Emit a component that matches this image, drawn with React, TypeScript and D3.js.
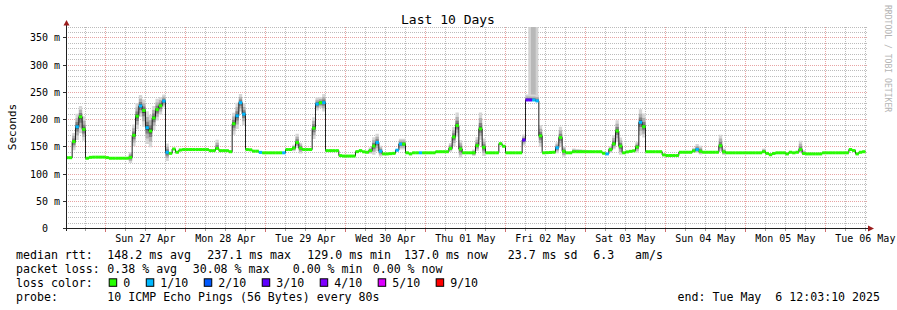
import React from 'react';
import * as d3 from 'd3';

const W = 897;
const H = 310;
const START = new Date(Date.UTC(2025, 3, 26, 12, 3, 10));
const END = new Date(Date.UTC(2025, 4, 6, 12, 3, 10));
const STEP_HOURS = 1; // RRD consolidation step shown per column group

const title = 'Last 10 Days';
const yAxisTitle = 'Seconds';
const watermark = 'RRDTOOL / TOBI OETIKER';

const yTickValues = [0, 50, 100, 150, 200, 250, 300, 350];
const yTickLabels = ['0', '50 m', '100 m', '150 m', '200 m', '250 m', '300 m', '350 m'];
const dayLabels = ['Sun 27 Apr', 'Mon 28 Apr', 'Tue 29 Apr', 'Wed 30 Apr', 'Thu 01 May', 'Fri 02 May', 'Sat 03 May', 'Sun 04 May', 'Mon 05 May', 'Tue 06 May'];

// [hours since start, median rtt (ms), loss (tenths), smoke above (ms), smoke below (ms)]
const samples: number[][] = [
  [0, 130, 0, 0, 0], [1.95, 130, 0, 0, 0], [2.25, 150, 0, 10, 10], [2.85, 173, 0, 16, 16], [3.75, 192, 1, 24, 24],
  [4.35, 203, 0, 20, 30], [4.95, 205, 0, 20, 30], [5.55, 180, 0, 24, 20], [5.85, 134, 0, 6, 0], [6.75, 129, 0, 0, 0],
  [7.65, 131, 0, 0, 0], [12.15, 131, 0, 0, 0], [13.05, 129, 0, 0, 0], [19.05, 129, 0, 0, 0], [19.65, 131, 0, 0, 0],
  [19.95, 150, 0, 10, 10], [20.55, 173, 0, 20, 20], [21.45, 205, 0, 24, 24], [22.05, 220, 1, 20, 20], [22.95, 225, 1, 16, 16],
  [23.55, 216, 0, 20, 30], [24.15, 189, 1, 30, 30], [25.05, 179, 0, 30, 30], [25.95, 192, 0, 24, 24], [27.15, 216, 0, 20, 20],
  [28.05, 222, 0, 16, 16], [29.25, 231, 1, 12, 12], [29.85, 234, 1, 10, 10], [30.15, 183, 1, 16, 16], [30.45, 140, 0, 0, 0],
  [31.95, 138, 0, 0, 0], [32.25, 146, 0, 0, 0], [32.85, 146, 0, 0, 0], [33.75, 140, 0, 0, 0], [34.65, 145, 0, 0, 0],
  [43.05, 145, 0, 0, 0], [43.35, 143, 0, 0, 0], [45.45, 143, 0, 0, 0], [45.75, 147, 0, 16, 0], [46.35, 143, 0, 0, 0],
  [48.45, 143, 0, 0, 0], [49.95, 141, 0, 0, 0], [50.25, 179, 0, 16, 16], [50.55, 195, 0, 20, 20], [51.75, 210, 1, 24, 24],
  [52.35, 228, 1, 16, 16], [52.95, 231, 1, 10, 10], [53.25, 210, 1, 20, 20], [53.55, 210, 0, 16, 16], [53.85, 145, 0, 0, 0],
  [55.35, 145, 0, 0, 0], [56.25, 142, 0, 0, 0], [58.05, 142, 0, 0, 0], [58.65, 139, 1, 0, 0], [59.25, 139, 0, 0, 0],
  [65.55, 139, 1, 0, 0], [66.15, 145, 0, 0, 0], [67.95, 145, 0, 0, 0], [68.55, 148, 0, 6, 6], [69.75, 158, 0, 16, 10],
  [70.05, 152, 0, 10, 10], [70.35, 148, 0, 0, 0], [71.25, 145, 0, 0, 0], [74.25, 145, 0, 0, 0], [74.55, 192, 0, 20, 20],
  [74.85, 215, 0, 20, 20], [75.45, 228, 0, 12, 12], [75.75, 231, 1, 10, 10], [77.55, 231, 1, 10, 10], [77.85, 186, 0, 16, 16],
  [78.15, 143, 0, 0, 0], [82.05, 143, 0, 0, 0], [82.35, 134, 0, 0, 0], [83.25, 133, 0, 0, 0], [87.15, 133, 0, 0, 0],
  [87.45, 141, 0, 0, 0], [88.05, 143, 0, 0, 0], [89.25, 141, 0, 0, 0], [90.75, 140, 0, 0, 0], [91.95, 145, 0, 6, 6],
  [92.55, 152, 0, 16, 16], [93.45, 158, 1, 16, 16], [94.05, 145, 0, 10, 10], [94.65, 141, 1, 0, 0], [95.25, 137, 0, 0, 0],
  [96.45, 137, 0, 0, 0], [98.55, 138, 0, 0, 0], [99.15, 143, 1, 0, 0], [100.05, 145, 0, 6, 6], [100.35, 155, 0, 10, 10],
  [100.65, 143, 1, 0, 0], [101.25, 155, 0, 10, 10], [101.55, 145, 0, 0, 0], [102.15, 139, 0, 0, 0], [103.05, 139, 0, 0, 0],
  [103.65, 137, 0, 0, 0], [104.25, 139, 0, 0, 0], [106.65, 139, 1, 0, 0], [110.55, 139, 0, 0, 0], [111.15, 141, 0, 0, 0],
  [115.05, 141, 0, 0, 0], [115.65, 149, 0, 10, 6], [116.25, 164, 0, 16, 16], [117.15, 179, 0, 24, 20], [117.75, 189, 0, 20, 20],
  [118.05, 179, 0, 16, 16], [118.35, 149, 0, 10, 10], [118.65, 143, 0, 0, 0], [119.25, 139, 0, 0, 0], [122.55, 139, 0, 0, 0],
  [122.85, 145, 0, 6, 6], [123.75, 155, 0, 16, 10], [124.35, 183, 0, 30, 20], [124.95, 175, 0, 24, 20], [125.25, 155, 0, 16, 16],
  [125.85, 141, 0, 0, 0], [126.15, 139, 0, 0, 0], [129.75, 139, 0, 0, 0], [130.05, 155, 0, 0, 0], [130.65, 156, 0, 0, 0],
  [131.25, 156, 0, 0, 0], [131.55, 150, 0, 0, 0], [131.85, 139, 0, 0, 0], [136.65, 139, 0, 0, 0], [137.25, 155, 0, 6, 6],
  [137.55, 164, 1, 10, 10], [137.85, 234, 3, 10, 0], [138.15, 236, 3, 10, 0], [139.05, 236, 3, 10, 0], [139.35, 236, 2, 10, 0],
  [140.25, 236, 1, 10, 0], [141.45, 236, 1, 10, 0], [142.05, 216, 0, 20, 20], [142.35, 179, 0, 16, 16], [142.95, 143, 0, 0, 0],
  [143.55, 139, 0, 0, 0], [146.55, 140, 0, 0, 0], [147.15, 143, 1, 0, 0], [147.75, 152, 0, 10, 10], [148.05, 167, 0, 20, 16],
  [148.35, 163, 0, 16, 16], [148.65, 156, 0, 16, 16], [149.25, 150, 0, 10, 10], [149.55, 140, 0, 0, 0], [150.15, 139, 0, 0, 0],
  [151.65, 139, 0, 0, 0], [152.25, 141, 0, 6, 0], [160.65, 141, 0, 0, 0], [160.95, 140, 0, 0, 0], [161.85, 137, 0, 0, 0],
  [162.15, 137, 1, 0, 0], [162.75, 137, 0, 0, 0], [163.05, 141, 0, 0, 0], [163.95, 149, 0, 6, 6], [164.55, 156, 0, 16, 10],
  [165.15, 167, 0, 20, 16], [165.75, 179, 0, 20, 20], [166.05, 172, 0, 16, 16], [166.35, 154, 0, 12, 12], [166.95, 143, 0, 0, 0],
  [167.25, 139, 0, 0, 0], [167.85, 140, 0, 0, 0], [170.85, 143, 0, 0, 0], [171.75, 152, 0, 10, 10], [172.35, 179, 0, 20, 20],
  [172.95, 195, 1, 24, 24], [173.25, 192, 0, 24, 20], [173.55, 186, 0, 20, 20], [173.85, 161, 0, 10, 10], [174.15, 141, 0, 0, 0],
  [178.65, 141, 0, 0, 0], [179.25, 136, 0, 0, 0], [179.85, 134, 0, 0, 0], [183.75, 134, 0, 0, 0], [184.05, 140, 0, 0, 0],
  [188.25, 140, 0, 0, 0], [188.55, 143, 0, 6, 0], [189.45, 145, 1, 10, 6], [190.05, 144, 0, 10, 6], [190.65, 141, 0, 0, 0],
  [191.25, 140, 0, 0, 0], [196.05, 140, 0, 0, 0], [196.35, 145, 0, 10, 6], [196.65, 152, 0, 20, 10], [197.25, 145, 0, 6, 6],
  [197.55, 140, 0, 0, 0], [198.15, 139, 0, 0, 0], [209.55, 139, 0, 0, 0], [209.85, 141, 0, 6, 0], [210.45, 138, 0, 0, 0],
  [211.65, 135.5, 0, 0, 0], [212.55, 138, 0, 0, 0], [213.15, 139, 0, 0, 0], [216.15, 139, 0, 0, 0], [216.45, 140, 0, 0, 0],
  [216.75, 137, 0, 0, 0], [217.05, 140, 0, 0, 0], [217.65, 139, 0, 0, 0], [218.55, 139, 0, 0, 0], [219.15, 140, 0, 0, 0],
  [219.75, 138, 0, 0, 0], [220.05, 141, 0, 6, 0], [220.65, 145, 0, 16, 6], [221.25, 141, 0, 6, 0], [221.55, 137, 0, 0, 0],
  [226.65, 137, 0, 0, 0], [227.25, 139, 0, 0, 0], [234.75, 139, 0, 0, 0], [235.05, 143, 0, 0, 0], [235.95, 145, 0, 0, 0],
  [236.55, 143, 0, 0, 0], [237.15, 141, 0, 0, 0], [237.75, 137, 0, 0, 0], [238.05, 140, 0, 0, 0], [238.65, 135, 0, 0, 0],
  [239.25, 141, 0, 0, 0], [239.85, 137, 0, 0, 0], [240, 137, 0, 0, 0],
];

// extreme single-ping outliers (hours since start) drawn as light smoke up to the top
const outlierStart = [138.85, 139.65];
const outlierEnd = [141.85, 141.05];
const outlierTopMs = [370, 370];
const outlierBaseMs = [238, 238];
const outlierShade = ['#d2d2d2', '#b8b8b8'];

const lossLabels = ['0', '1/10', '2/10', '3/10', '4/10', '5/10', '9/10'];
const lossColors = ['#26ff00', '#00b8ff', '#0059ff', '#5e00ff', '#7e00ff', '#dd00ff', '#ff0000'];

const legendRtt = [
  ['median rtt:', 16], ['148.2 ms avg', 107.3], ['237.1 ms max', 207.3], ['129.0 ms min', 307.3],
  ['137.0 ms now', 404], ['23.7 ms sd', 507.7], ['6.3', 593.3], ['am/s', 635],
];
const legendLoss = [
  ['packet loss:', 16], ['0.38 % avg', 107.3], ['30.08 % max', 192.7], ['0.00 % min', 292.7], ['0.00 % now', 372.7],
];
const probeText = '10 ICMP Echo Pings (56 Bytes) every 80s';
const endText = 'end: Tue May  6 12:03:10 2025';

const smokeLayers = [1, 0.66, 0.36, 0.15];
const smokeShades = ['#d6d6d6', '#b0b0b0', '#808080', '#484848'];

const MONO = "'DejaVu Sans Mono', monospace";

function lossColor(l: number) {
  if (l <= 0) return lossColors[0];
  if (l <= 5) return lossColors[l];
  return lossColors[6];
}

type Bin = { t0: Date; t1: Date; m: number; l: number; u: number; d: number };

function consolidate(): Bin[] {
  const hs = samples.map((s) => s[0]);
  const interp = (h: number, k: number) => {
    let i = d3.bisectRight(hs, h) - 1;
    i = Math.max(0, Math.min(samples.length - 2, i));
    const a = samples[i], b = samples[i + 1];
    const f = b[0] > a[0] ? Math.max(0, Math.min(1, (h - a[0]) / (b[0] - a[0]))) : 0;
    return a[k] + (b[k] - a[k]) * f;
  };
  const nb = Math.round(240 / STEP_HOURS);
  return d3.range(nb).map((b) => {
    const h0 = b * STEP_HOURS, h1 = (b + 1) * STEP_HOURS, hc = (h0 + h1) / 2;
    let m = interp(hc, 1);
    let u = interp(hc, 3);
    let d = interp(hc, 4);
    let l = 0;
    let best = 0;
    samples.forEach((s, i) => {
      if (s[0] < h0 || s[0] >= h1) return;
      l = Math.max(l, s[2]);
      u = Math.max(u, s[3]);
      d = Math.max(d, s[4]);
      const prev = samples[Math.max(0, i - 1)][1];
      const next = samples[Math.min(samples.length - 1, i + 1)][1];
      const isExt = (s[1] > prev && s[1] > next) || (s[1] < prev && s[1] < next);
      if (isExt && Math.abs(s[1] - interp(hc, 1)) > best) {
        best = Math.abs(s[1] - interp(hc, 1));
        m = s[1];
      }
    });
    return {
      t0: new Date(START.getTime() + h0 * 3600e3),
      t1: new Date(START.getTime() + h1 * 3600e3),
      m, l, u, d,
    };
  });
}

export default function App() {
  const x = d3.scaleUtc().domain([START, END]).range([65.5, 865.5]);
  const y = d3.scaleLinear().domain([0, 370]).range([228.5, 27]);
  const crisp = (v: number) => Math.floor(v) + 0.5;

  const bins = consolidate();
  const stepPts = [...bins.map((b) => ({ t: b.t0, b })), { t: bins[bins.length - 1].t1, b: bins[bins.length - 1] }];

  const smokeAreas = smokeLayers.map((f) =>
    d3.area<any>()
      .curve(d3.curveStepAfter)
      .x((p) => x(p.t))
      .y0((p) => y(p.b.m - p.b.d * f))
      .y1((p) => y(p.b.m + p.b.u * f))(stepPts) as string
  );
  const medianLine = d3.line<any>().curve(d3.curveStepAfter).x((p) => x(p.t)).y((p) => y(p.b.m))(stepPts) as string;

  const minorH = d3.range(10, 371, 10).filter((v) => v % 50 !== 0);
  const majorH = d3.range(50, 371, 50);
  const sixHours = d3.utcHour.every(6)!.range(START, END);
  const minorV = sixHours.filter((d) => d.getUTCHours() !== 0);
  const majorV = sixHours.filter((d) => d.getUTCHours() === 0);
  const days = d3.utcDay.range(START, END);

  const legendSquares: { x: number; c: string; label: string }[] = [];
  let sx = 108.7;
  lossLabels.forEach((lab, i) => {
    legendSquares.push({ x: sx, c: lossColors[i], label: lab });
    sx += 14.5 + lab.length * 6.97 + 15.6;
  });

  const legendY = [258.5, 272.5, 286.5, 300.5];
  const minorGrid = '#bcbcbc';
  const majorGrid = '#e8a4a4';
  const hx = (h: number) => x(new Date(START.getTime() + h * 3600e3));

  return (
    <svg width={W} height={H} style={{ position: 'absolute', left: 0, top: 0, background: '#fff' }}
      fontFamily={MONO}>
      <defs>
        <clipPath id="plot">
          <rect x={66} y={27} width={801} height={201.5} />
        </clipPath>
      </defs>
      <rect x={0} y={0} width={W} height={H} fill="#ffffff" />

      {/* grid */}
      {minorH.map((v) => (
        <line key={'mh' + v} x1={66} x2={867} y1={crisp(y(v))} y2={crisp(y(v))}
          stroke={minorGrid} strokeDasharray="1,1" />
      ))}
      {minorV.map((d, i) => (
        <line key={'mv' + i} x1={crisp(x(d))} x2={crisp(x(d))} y1={27} y2={228}
          stroke={minorGrid} strokeDasharray="1,1" />
      ))}
      {majorH.map((v) => (
        <line key={'Mh' + v} x1={66} x2={867} y1={crisp(y(v))} y2={crisp(y(v))}
          stroke={majorGrid} strokeDasharray="1,1" />
      ))}
      {majorV.map((d, i) => (
        <line key={'Mv' + i} x1={crisp(x(d))} x2={crisp(x(d))} y1={27} y2={228}
          stroke={majorGrid} strokeDasharray="1,1" />
      ))}

      {/* data */}
      <g clipPath="url(#plot)">
        {outlierStart.map((s, i) => (
          <rect key={'o' + i}
            x={hx(s)}
            width={hx(outlierEnd[i]) - hx(s)}
            y={y(outlierTopMs[i])}
            height={y(outlierBaseMs[i]) - y(outlierTopMs[i])}
            fill={outlierShade[i]} />
        ))}
        {smokeAreas.map((d, i) => (
          <path key={'s' + i} d={d} fill={smokeShades[i]} stroke="none" />
        ))}
        <path d={medianLine} fill="none" stroke="#202020" strokeWidth={1} />
        {bins.map((b, i) => (
          <rect key={'c' + i} x={x(b.t0)} y={y(b.m) - 1.5} width={x(b.t1) - x(b.t0)} height={3}
            fill={lossColor(b.l)} />
        ))}
      </g>

      {/* axes */}
      <line x1={66.5} x2={66.5} y1={231} y2={23} stroke="#202020" />
      <line x1={63} x2={869} y1={228.5} y2={228.5} stroke="#202020" />
      <path d="M63.5,25.5 L69.5,25.5 L66.5,20 Z" fill="#9b1d1d" />
      <path d="M868,225.5 L868,231.5 L874,228.5 Z" fill="#9b1d1d" />

      {yTickValues.map((v, i) => (
        <g key={'yt' + v}>
          <line x1={63} x2={66} y1={crisp(y(v))} y2={crisp(y(v))} stroke="#303030" />
          <text x={v === 0 ? 48 : 60} y={y(v) + 3.6} fontSize={10} textAnchor="end" fill="#000">
            {yTickLabels[i]}
          </text>
        </g>
      ))}
      {minorV.map((d, i) => (
        <line key={'xt' + i} x1={crisp(x(d))} x2={crisp(x(d))} y1={229} y2={231} stroke="#a0a0a0" />
      ))}
      {majorV.map((d, i) => (
        <line key={'xT' + i} x1={crisp(x(d))} x2={crisp(x(d))} y1={229} y2={232} stroke="#d07070" />
      ))}
      {days.map((d, i) => (
        <text key={'dl' + i} x={x(new Date(d.getTime() + 12 * 3600e3))} y={241.7} fontSize={10}
          textAnchor="middle" fill="#000">
          {dayLabels[i]}
        </text>
      ))}

      {/* titles */}
      <text x={448} y={24} fontSize={13} textAnchor="middle" fill="#000">{title}</text>
      <text transform="translate(15.5,127) rotate(-90)" fontSize={11} textAnchor="middle" fill="#000">
        {yAxisTitle}
      </text>
      <text transform="translate(885,5) rotate(90)" fontSize={8.1} fill="#b4b4b4">{watermark}</text>

      {/* legend */}
      <g fontSize={11.6} fill="#000" style={{ whiteSpace: 'pre' }}>
        {legendRtt.map(([t, lx], i) => (
          <text key={'r' + i} x={lx as number} y={legendY[0]}>{t}</text>
        ))}
        {legendLoss.map(([t, lx], i) => (
          <text key={'l' + i} x={lx as number} y={legendY[1]}>{t}</text>
        ))}
        <text x={16} y={legendY[2]}>loss color:</text>
        {legendSquares.map((s, i) => (
          <g key={'sq' + i}>
            <rect x={s.x + 0.5} y={278.8} width={7.5} height={7.5} fill={s.c} stroke="#000" strokeWidth={1} />
            <text x={s.x + 14.5} y={legendY[2]}>{s.label}</text>
          </g>
        ))}
        <text x={16} y={legendY[3]}>probe:</text>
        <text x={107.3} y={legendY[3]}>{probeText}</text>
        <text x={880} y={legendY[3]} textAnchor="end" xmlSpace="preserve">{endText}</text>
      </g>
    </svg>
  );
}
